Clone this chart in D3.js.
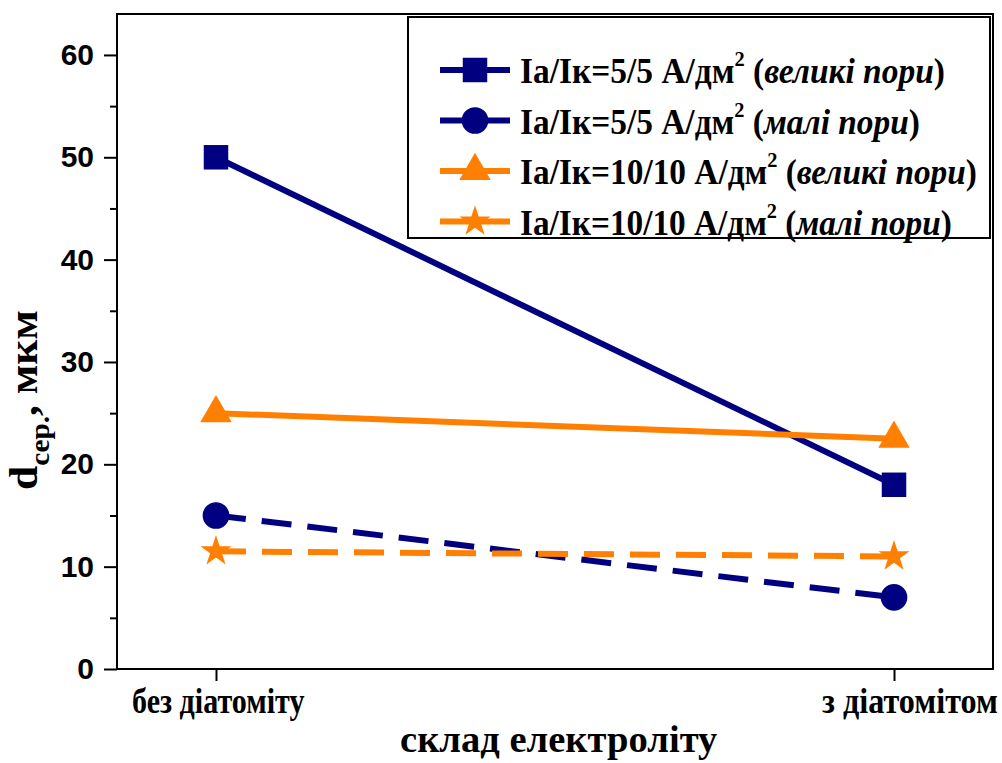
<!DOCTYPE html>
<html>
<head>
<script src="https://d3js.org/d3.v7.min.js"></script>
<style>
  body { margin: 0; background: #fff; }
</style>
</head>
<body>
<script>
// categories and values
const categories = ["без діатоміту", "з діатомітом"];
const seriesNames = [
  { main: "Ia/Iк=5/5 А/дм", note: "великі пори" },
  { main: "Ia/Iк=5/5 А/дм", note: "малі пори" },
  { main: "Ia/Iк=10/10 А/дм", note: "великі пори" },
  { main: "Ia/Iк=10/10 А/дм", note: "малі пори" }
];
const bigPores55 = [50, 18];
const smallPores55 = [15, 7];
const bigPores1010 = [25, 22.5];
const smallPores1010 = [11.5, 11];
const yTicks = [0, 10, 20, 30, 40, 50, 60];

const navy = "#000080", orange = "#ff8000";
const serif = "'Liberation Serif'";
const sans = "'Liberation Sans'";
const series = [
  { values: bigPores55, color: navy, dash: null, symbol: d3.symbolSquare, size: 600 },
  { values: smallPores55, color: navy, dash: "30,16", symbol: d3.symbolCircle, size: 560 },
  { values: bigPores1010, color: orange, dash: null, symbol: d3.symbolTriangle, size: 430 },
  { values: smallPores1010, color: orange, dash: "30,16", symbol: d3.symbolStar, size: 300 }
];

const W = 1002, H = 763;
const m = { left: 117, top: 14, right: 9, bottom: 94 };
const iw = W - m.left - m.right, ih = H - m.top - m.bottom;

const svg = d3.select("body").append("svg").attr("width", W).attr("height", H);
const g = svg.append("g").attr("transform", `translate(${m.left},${m.top})`);

// squeeze a text (drawn at 0,0) along its baseline so that it spans `width` px
function fit(t, x0, y0, width, rot) {
  const w = t.node().getBBox().width;
  const sx = width / w;
  t.attr("transform", `translate(${x0},${y0})${rot ? " rotate(" + rot + ")" : ""} scale(${sx},1)`);
}
function serifText(parent, size) {
  return parent.append("text").style("font-family", serif).style("font-weight", "bold")
    .attr("font-size", size).attr("fill", "#000");
}

const x = d3.scalePoint().domain(categories).range([0, iw]).padding(0.146);
const y = d3.scaleLinear().domain([0, 64]).range([ih, 0]);

// frame
g.append("rect").attr("width", iw).attr("height", ih)
  .attr("fill", "none").attr("stroke", "#000").attr("stroke-width", 2);

// y axis
const yAxis = g.append("g")
  .call(d3.axisLeft(y).tickValues(yTicks).tickSize(13).tickPadding(10));
yAxis.select(".domain").remove();
yAxis.selectAll("line").attr("stroke-width", 2);
yAxis.selectAll("text").style("font-family", sans).style("font-weight", "bold")
  .attr("font-size", 30).attr("fill", "#000");
g.append("g")
  .call(d3.axisLeft(y).tickValues(d3.range(5, 64, 10)).tickSize(7).tickFormat(""))
  .call(a => a.select(".domain").remove())
  .selectAll("line").attr("stroke-width", 2);

// x axis
const xAxis = g.append("g").attr("transform", `translate(0,${ih})`)
  .call(d3.axisBottom(x).tickSize(12).tickFormat(""));
xAxis.select(".domain").remove();
xAxis.selectAll("line").attr("stroke-width", 2);
const xLabelSpan = [[132, 305], [822, 998]];
categories.forEach((c, i) => {
  const t = serifText(svg, 35).text(c);
  fit(t, xLabelSpan[i][0], 713, xLabelSpan[i][1] - xLabelSpan[i][0]);
});

// axis titles
fit(serifText(svg, 37).text("склад електроліту"), 400, 752, 318);
const yl = serifText(svg, 40);
yl.append("tspan").text("d");
yl.append("tspan").attr("font-size", 27).attr("dy", 12).text("сер.");
yl.append("tspan").attr("dy", -12).text(", мкм");
fit(yl, 37, 490, 180, -90);

// series
const line = d3.line().x((d, i) => x(categories[i])).y(d => y(d));
series.forEach(s => {
  g.append("path").datum(s.values).attr("d", line)
    .attr("fill", "none").attr("stroke", s.color).attr("stroke-width", 6)
    .attr("stroke-dasharray", s.dash);
  g.selectAll(null).data(s.values).join("path")
    .attr("transform", (d, i) => `translate(${x(categories[i])},${y(d)})`)
    .attr("d", d3.symbol(s.symbol, s.size)).attr("fill", s.color);
});

// legend
const lg = svg.append("g");
lg.append("rect").attr("x", 408).attr("y", 17).attr("width", 582).attr("height", 221)
  .attr("fill", "#fff").attr("stroke", "#000").attr("stroke-width", 2);
const legendWidths = [425, 400, 457, 432];
series.forEach((s, i) => {
  const yy = 70 + i * 50.5;
  lg.append("line").attr("x1", 440).attr("x2", 510).attr("y1", yy).attr("y2", yy)
    .attr("stroke", s.color).attr("stroke-width", 6);
  lg.append("path").attr("transform", `translate(475,${yy})`)
    .attr("d", d3.symbol(s.symbol, s.size)).attr("fill", s.color);
  const t = serifText(lg, 36);
  t.append("tspan").text(seriesNames[i].main);
  t.append("tspan").attr("font-size", 22).attr("dy", -17).text("2");
  t.append("tspan").attr("dy", 17).text(" (");
  t.append("tspan").attr("font-style", "italic").text(seriesNames[i].note);
  t.append("tspan").text(")");
  fit(t, 520, yy + 13, legendWidths[i]);
});
</script>
</body>
</html>
